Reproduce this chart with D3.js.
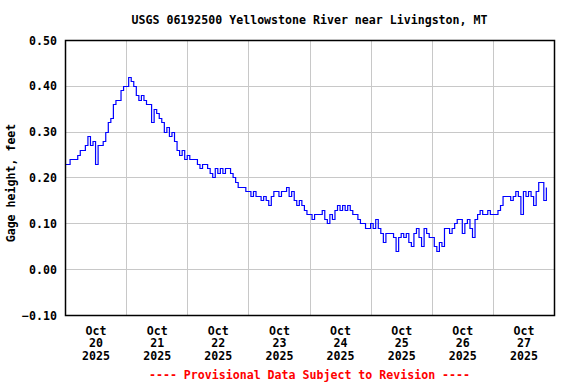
<!DOCTYPE html>
<html>
<head>
<meta charset="utf-8">
<script src="https://cdn.jsdelivr.net/npm/d3@7"></script>
<style>
  body { margin: 0; background: #fff; }
  svg text { font-family: "DejaVu Sans Mono", monospace; font-weight: bold; font-size: 11.6px; fill: #000; }
</style>
</head>
<body>
<div id="chart"></div>
<script>
// hourly gage height readings (feet), starting Oct 20 2025 00:00
var startTime = new Date(2025, 9, 20, 0, 0);
var endTime = new Date(2025, 9, 28, 0, 0);

var oct20 = [0.23,0.23,0.24,0.24,0.24,0.25,0.26,0.26,0.27,0.29,0.27,0.28,0.23,0.27,0.27,0.28,0.30,0.32,0.33,0.36,0.37,0.37,0.39,0.40];
var oct21 = [0.40,0.42,0.41,0.40,0.38,0.37,0.38,0.37,0.36,0.36,0.32,0.35,0.34,0.33,0.32,0.30,0.31,0.29,0.30,0.28,0.26,0.25,0.26,0.24];
var oct22 = [0.25,0.24,0.24,0.24,0.23,0.22,0.23,0.23,0.22,0.21,0.20,0.22,0.21,0.22,0.21,0.22,0.22,0.21,0.20,0.19,0.18,0.18,0.18,0.17];
var oct23 = [0.17,0.16,0.17,0.16,0.16,0.15,0.16,0.15,0.14,0.16,0.17,0.17,0.16,0.17,0.17,0.18,0.16,0.17,0.15,0.14,0.15,0.14,0.13,0.12];
var oct24 = [0.12,0.11,0.12,0.12,0.12,0.13,0.11,0.10,0.12,0.11,0.13,0.14,0.13,0.14,0.13,0.14,0.13,0.12,0.12,0.11,0.10,0.10,0.09,0.09];
var oct25 = [0.10,0.09,0.11,0.09,0.08,0.06,0.08,0.08,0.08,0.07,0.04,0.07,0.08,0.07,0.08,0.06,0.05,0.08,0.09,0.07,0.05,0.09,0.08,0.07];
var oct26 = [0.07,0.05,0.04,0.06,0.05,0.09,0.09,0.08,0.09,0.10,0.11,0.11,0.08,0.10,0.11,0.09,0.07,0.11,0.12,0.13,0.12,0.12,0.13,0.12];
var oct27 = [0.12,0.12,0.13,0.14,0.16,0.16,0.16,0.15,0.16,0.17,0.16,0.12,0.17,0.16,0.17,0.16,0.14,0.17,0.19,0.19,0.15,0.18];

var dayLabels = ["20", "21", "22", "23", "24", "25", "26", "27"];
var monthLabel = "Oct";
var yearLabel = "2025";
var yTicks = [-0.10, 0.00, 0.10, 0.20, 0.30, 0.40, 0.50];

var title = "USGS 06192500 Yellowstone River near Livingston, MT";
var yTitle = "Gage height, feet";
var footer = "---- Provisional Data Subject to Revision ----";

var values = [].concat(oct20, oct21, oct22, oct23, oct24, oct25, oct26, oct27);
var data = values.map(function (v, i) {
    return {t: d3.timeHour.offset(startTime, i), v: v};
});

var W = 576, H = 384;
var margin = {top: 40, right: 22, bottom: 69, left: 65};
var width = W - margin.left - margin.right,
    height = H - margin.top - margin.bottom;

var svg = d3.select("#chart").append("svg")
    .attr("width", W)
    .attr("height", H);

var g = svg.append("g")
    .attr("transform", "translate(" + margin.left + "," + margin.top + ")");

var x = d3.scaleTime().domain([startTime, endTime]).range([0, width]);
var y = d3.scaleLinear().domain([-0.10, 0.50]).range([height, 0]);

var dayStarts = d3.timeDay.range(startTime, endTime);

// grid
g.append("g")
    .selectAll("line.hgrid")
    .data(yTicks)
    .enter().append("line")
    .attr("x1", 0).attr("x2", width)
    .attr("y1", function (d) { return Math.round(y(d)) + 0.5; })
    .attr("y2", function (d) { return Math.round(y(d)) + 0.5; })
    .attr("stroke", "#c8c8c8")
    .attr("stroke-width", 1);

g.append("g")
    .selectAll("line.vgrid")
    .data(dayStarts.slice(1))
    .enter().append("line")
    .attr("y1", 0).attr("y2", height)
    .attr("x1", function (d) { return Math.round(x(d)) + 0.5; })
    .attr("x2", function (d) { return Math.round(x(d)) + 0.5; })
    .attr("stroke", "#c8c8c8")
    .attr("stroke-width", 1);

// data line
var line = d3.line()
    .curve(d3.curveStepAfter)
    .x(function (d) { return x(d.t); })
    .y(function (d) { return Math.round(y(d.v)) + 0.5; });

g.append("path")
    .datum(data)
    .attr("fill", "none")
    .attr("stroke", "#0000ff")
    .attr("stroke-width", 1.2)
    .attr("d", line);

// frame
g.append("rect")
    .attr("x", 0.5).attr("y", 0.5)
    .attr("width", width).attr("height", height)
    .attr("fill", "none")
    .attr("stroke", "#000")
    .attr("stroke-width", 1.5);

// y axis labels
var yAxis = g.append("g")
    .call(d3.axisLeft(y).tickValues(yTicks).tickFormat(d3.format(".2f")).tickSize(0).tickPadding(8));
yAxis.select(".domain").remove();
yAxis.selectAll("text").attr("dy", "0.35em");

// x axis labels at noon of each day
var noons = dayStarts.map(function (d) { return d3.timeHour.offset(d, 12); });
var xAxis = g.append("g")
    .attr("transform", "translate(0," + height + ")")
    .call(d3.axisBottom(x).tickValues(noons).tickSize(0).tickFormat(""));
xAxis.select(".domain").remove();
xAxis.selectAll(".tick text").remove();
xAxis.selectAll(".tick").each(function (d, i) {
    var t = d3.select(this).append("text")
        .attr("text-anchor", "middle")
        .attr("fill", "#000");
    t.append("tspan").attr("x", 0).attr("y", 19.5).text(monthLabel);
    t.append("tspan").attr("x", 0).attr("y", 32.3).text(dayLabels[i]);
    t.append("tspan").attr("x", 0).attr("y", 45).text(yearLabel);
});

// titles
svg.append("text")
    .attr("x", margin.left + width / 2)
    .attr("y", 23.5)
    .attr("text-anchor", "middle")
    .text(title);

svg.append("text")
    .attr("transform", "translate(15,183) rotate(-90)")
    .attr("text-anchor", "middle")
    .text(yTitle);

svg.append("text")
    .attr("x", margin.left + width / 2)
    .attr("y", 379)
    .attr("text-anchor", "middle")
    .style("fill", "#ff0000")
    .text(footer);
</script>
</body>
</html>
